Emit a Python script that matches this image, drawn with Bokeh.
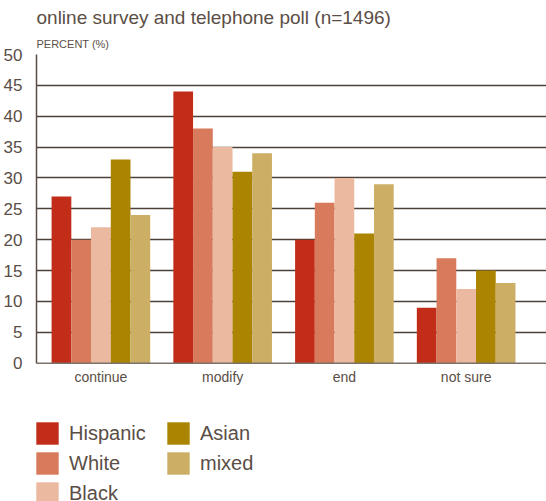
from bokeh.plotting import figure
from bokeh.models import (FixedTicker, Legend, LegendItem, Title, Range1d,
                          ColumnDataSource, Span)
from bokeh.core.properties import value
from bokeh.embed import file_html
from bokeh.resources import INLINE

categories = ["continue", "modify", "end", "not sure"]
groups = ["Hispanic", "White", "Black", "Asian", "mixed"]
hispanic = [27, 44, 20, 9]
white = [20, 38, 26, 17]
black = [22, 35, 30, 12]
asian = [33, 31, 21, 15]
mixed = [24, 34, 29, 13]
series = [hispanic, white, black, asian, mixed]
colors = ["#c22d1a", "#d87a5c", "#ebb8a0", "#ab8402", "#ccaf65"]
y_ticks = [0, 5, 10, 15, 20, 25, 30, 35, 40, 45, 50]

TEXT = "#5a4e46"
SANS = "Liberation Sans"

# frame runs to the bottom of the page so the legend below the bars is not clipped
p = figure(width=546, height=501, output_backend="svg", toolbar_location=None,
           x_range=Range1d(-0.529, 3.66), y_range=Range1d(-22.4, 50),
           x_axis_location=None,
           min_border_left=35, min_border_right=0, min_border_top=0,
           min_border_bottom=0, title=None)
p.outline_line_color = None
p.background_fill_color = "white"

bw = 0.162
renderers = []
for j, (name, vals, col) in enumerate(zip(groups, series, colors)):
    xs = [i + (j - 2) * bw for i in range(len(categories))]
    src = ColumnDataSource(dict(x=xs, top=vals))
    r = p.vbar(x="x", top="top", bottom=0, width=bw, source=src,
               fill_color=col, line_color=None)
    renderers.append((name, r))

# y axis
p.yaxis.ticker = FixedTicker(ticks=y_ticks)
p.yaxis.bounds = (y_ticks[0], y_ticks[-1])
p.yaxis.major_tick_line_color = None
p.yaxis.minor_tick_line_color = None
p.yaxis.axis_line_color = "#5a4d45"
p.yaxis.axis_line_width = 1.5
p.yaxis.major_label_text_font = SANS
p.yaxis.major_label_text_font_size = "17px"
p.yaxis.major_label_text_color = TEXT
p.yaxis.major_label_standoff = 8

p.xgrid.grid_line_color = None
p.ygrid.ticker = FixedTicker(ticks=y_ticks[1:])
p.ygrid.grid_line_color = "#4d4038"
p.ygrid.grid_line_width = 1.5

# baseline (x axis line)
p.add_layout(Span(location=y_ticks[0], dimension="width", line_color="#7d726a",
                  line_width=1.5))

# category labels
lab = ColumnDataSource(dict(x=list(range(len(categories))),
                            y=[y_ticks[0]] * len(categories), text=categories))
p.text(x="x", y="y", text="text", source=lab, y_offset=6, text_align="center",
       text_baseline="top", text_font=value(SANS), text_font_size="14px",
       text_color=TEXT)

# titles
p.add_layout(Title(text="PERCENT (%)", text_font=SANS, text_font_size="11px",
                   text_font_style="normal", text_color=TEXT, standoff=9), "above")
p.add_layout(Title(text="online survey and telephone poll (n=1496)", text_font=SANS,
                   text_font_size="19px", text_font_style="normal", text_color=TEXT,
                   standoff=8), "above")

legend = Legend(items=[LegendItem(label=n, renderers=[r]) for n, r in renderers],
                orientation="vertical", nrows=3, location=(-3, -6),
                glyph_width=28, glyph_height=28, label_height=28, label_width=93,
                spacing=2, padding=0, margin=0, label_standoff=8,
                label_text_font=SANS, label_text_font_size="20px",
                label_text_color=TEXT, border_line_color=None,
                background_fill_alpha=0)
p.add_layout(legend, "center")

open("out.html", "w").write(file_html(p, INLINE))
